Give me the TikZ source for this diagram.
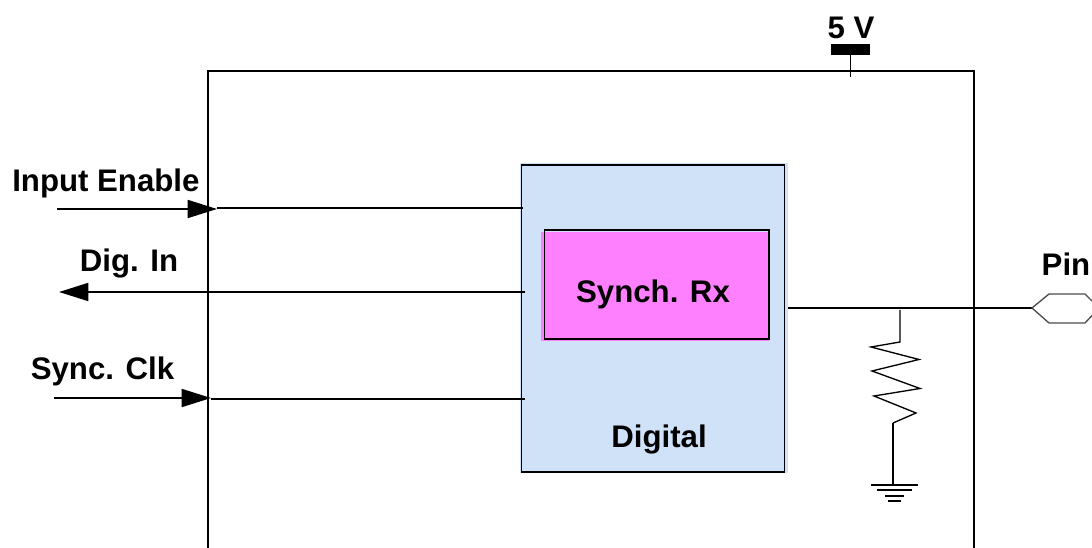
\documentclass[tikz,border=0pt]{standalone}
\usepackage{fontspec}
\setmainfont{Liberation Sans}
\usetikzlibrary{arrows.meta}
\definecolor{digitalblue}{RGB}{207,226,248}
\definecolor{rxpink}{RGB}{255,128,255}
\tikzset{
  wire/.style={line width=1.3pt},
  thinwire/.style={line width=1pt},
  sig/.style={wire,-{Triangle[length=22pt,width=13.5pt]}},
  lbl/.style={inner sep=0pt,font=\fontsize{23.4}{27}\selectfont\bfseries},
  blockbox/.style={draw,line width=1.3pt,inner sep=0pt,anchor=north west}
}
\begin{document}
\begin{tikzpicture}[x=0.75pt,y=0.75pt,yscale=-1]
\useasboundingbox (0,0) rectangle (1092,548);

%Fills, a little off their outlines
\fill [digitalblue] (520,163) rectangle (788,473);
\fill [rxpink] (541,232) rectangle (769,341);

%Blocks
\node (digital) [blockbox,minimum width=197.25pt,minimum height=230.25pt] at (520.5,164.5) {};
\node (synchrx) [blockbox,minimum width=168.25pt,minimum height=81.75pt] at (543.5,229.5) {};

%Outer box, open at the bottom
\draw [wire] (208,548) -- (208,71) -- (974,71) -- (974,548);

%Supply
\node (vbar) [fill=black,minimum width=29.25pt,minimum height=8.25pt,inner sep=0pt] at (850.5,49.5) {};
\coordinate (vend) at (850.5,77);
\draw [wire] (vbar.south) -- (vend);

%Inputs and output on the left
\coordinate (enstart) at (57,209);
\coordinate (entip) at (217,209);
\coordinate (enend) at (523,208);
\draw [sig] (enstart) -- (entip);
\draw [wire] (entip |- enend) -- (enend);

\coordinate (dinstart) at (525,292);
\coordinate (dintip) at (59,292);
\draw [sig] (dinstart) -- (dintip);

\coordinate (clkstart) at (54,398);
\coordinate (clktip) at (211,398);
\coordinate (clkend) at (525,399);
\draw [sig] (clkstart) -- (clktip);
\draw [wire] (clktip |- clkend) -- (clkend);

%Pin
\coordinate (pinl) at (1032,308);
\coordinate (outstart) at (788,308);
\coordinate (tap) at (900,310);
\coordinate (reslow) at (893,423);
\coordinate (gnd) at (893,485);
\draw [wire] (outstart) -- (pinl);
\draw [thinwire,black!70] (pinl) -- (1049,294) -- (1085,294) -- (1099,308) -- (1085,323) -- (1049,323) -- cycle;

%Resistor
\draw [thinwire] (tap) -- (900,342) -- (871,347) -- (919,359.5) -- (872,371) -- (920,388.5) -- (874,396) -- (916,413) -- (reslow);
\draw [wire] (reslow) -- (gnd);

%Ground
\draw [wire] (871,485) -- (918,485);
\draw [wire] (877,490) -- (912,490);
\draw [wire] (885,496) -- (904,496);
\draw [wire] (888,501) -- (901,501);

% Text Node
\node (vlabel) [lbl] at (851,28) {5 V};
\node (enlabel) [lbl,anchor=west] at (12,183) {Input Enable};
\node (dinlabel) [lbl] at (129,264) {Dig. In};
\node (clklabel) [lbl] at (102.5,371) {Sync. Clk};
\node (rxlabel) [lbl] at (653,294) {Synch. Rx};
\node (diglabel) [lbl] at (659,440) {Digital};
\node (pinlabel) [lbl] at (1066,264) {Pin};
\end{tikzpicture}
\end{document}
